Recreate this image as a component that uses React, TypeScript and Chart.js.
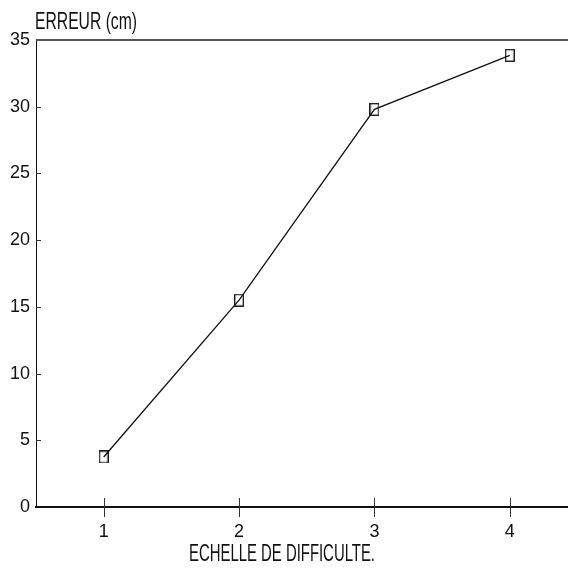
import React, { useEffect, useRef } from "react";
import { Chart, registerables } from "chart.js";

Chart.register(...registerables);

const categories = [1, 2, 3, 4];
const errorValues = [3.75, 15.5, 29.8, 33.85];
const yTickValues = [0, 5, 10, 15, 20, 25, 30, 35];
const xTitle = "ECHELLE DE DIFFICULTE.";
const yTitle = "ERREUR (cm)";

const FONT = "'Liberation Sans', Arial, sans-serif";

function makeMarker(): HTMLCanvasElement {
  const c = document.createElement("canvas");
  c.width = 10;
  c.height = 13;
  const ctx = c.getContext("2d")!;
  ctx.strokeStyle = "#111";
  ctx.lineWidth = 1.3;
  ctx.strokeRect(0.7, 0.7, 8.6, 11.6);
  return c;
}

function drawNarrowText(ctx: CanvasRenderingContext2D, text: string, x: number, y: number, width: number, align: "left" | "center") {
  const w = ctx.measureText(text).width;
  const sx = w > 0 ? width / w : 1;
  ctx.save();
  ctx.translate(x, y);
  ctx.scale(sx, 1);
  ctx.textAlign = align;
  ctx.fillText(text, 0, 0);
  ctx.restore();
}

const decorPlugin = {
  id: "decor",
  afterDraw(chart: any) {
    const { ctx, chartArea } = chart;
    const xs = chart.scales.x;
    const ys = chart.scales.y;
    ctx.save();
    // top frame line
    ctx.strokeStyle = "#555";
    ctx.lineWidth = 2;
    ctx.beginPath();
    ctx.moveTo(chartArea.left, chartArea.top);
    ctx.lineTo(chart.width, chartArea.top);
    ctx.stroke();
    // x ticks crossing the axis
    ctx.strokeStyle = "#333";
    ctx.lineWidth = 1;
    categories.forEach((v) => {
      const px = Math.round(xs.getPixelForValue(v)) + 0.5;
      ctx.beginPath();
      ctx.moveTo(px, chartArea.bottom - 9);
      ctx.lineTo(px, chartArea.bottom + 10);
      ctx.stroke();
    });
    // y ticks, inward
    yTickValues.forEach((v) => {
      if (v === 0 || v === 35) return;
      const py = Math.round(ys.getPixelForValue(v)) + 0.5;
      ctx.beginPath();
      ctx.moveTo(chartArea.left, py);
      ctx.lineTo(chartArea.left + 5, py);
      ctx.stroke();
    });
    // titles (condensed look)
    ctx.fillStyle = "#111";
    ctx.font = `24px ${FONT}`;
    ctx.textBaseline = "middle";
    drawNarrowText(ctx, yTitle, 35, 22, 102, "left");
    drawNarrowText(ctx, xTitle, 282, 554, 186, "center");
    ctx.restore();
  },
};

export default function App() {
  const ref = useRef<HTMLCanvasElement | null>(null);

  useEffect(() => {
    document.body.style.margin = "0";
    const canvas = ref.current!;
    const marker = makeMarker();
    const chart = new Chart(canvas, {
      type: "line",
      data: {
        datasets: [
          {
            data: categories.map((c, i) => ({ x: c, y: errorValues[i] })),
            borderColor: "#111",
            borderWidth: 1.3,
            tension: 0,
            fill: false,
            pointStyle: marker as any,
            pointRadius: 6,
            pointHoverRadius: 6,
          },
        ],
      },
      options: {
        responsive: false,
        animation: false,
        events: [],
        layout: { autoPadding: false, padding: { top: 40, left: 0, right: 0, bottom: 0 } },
        plugins: {
          legend: { display: false },
          tooltip: { enabled: false },
          title: { display: false },
        },
        scales: {
          x: {
            type: "linear",
            min: 0.5,
            max: 4.43,
            grid: { display: false, drawTicks: false, tickLength: 0 },
            border: { display: true, color: "#111", width: 2 },
            afterBuildTicks: (s: any) => {
              s.ticks = categories.map((v) => ({ value: v }));
            },
            afterFit: (s: any) => {
              s.height = 65;
              s.paddingLeft = 0;
              s.paddingRight = 0;
            },
            ticks: {
              color: "#111",
              padding: 14,
              maxRotation: 0,
              autoSkip: false,
              font: { family: FONT, size: 18 },
              callback: (v: any) => String(v),
            },
          },
          y: {
            type: "linear",
            min: 0,
            max: 35,
            grid: { display: false, drawTicks: false, tickLength: 0 },
            border: { display: true, color: "#111", width: 1 },
            afterBuildTicks: (s: any) => {
              s.ticks = yTickValues.map((v) => ({ value: v }));
            },
            afterFit: (s: any) => {
              s.width = 36;
              s.paddingTop = 0;
              s.paddingBottom = 0;
            },
            ticks: {
              color: "#111",
              padding: 6,
              autoSkip: false,
              font: { family: FONT, size: 18 },
              callback: (v: any) => String(v),
            },
          },
        },
      },
      plugins: [decorPlugin],
    });
    return () => chart.destroy();
  }, []);

  return <canvas ref={ref} width={568} height={572} style={{ display: "block" }} />;
}
